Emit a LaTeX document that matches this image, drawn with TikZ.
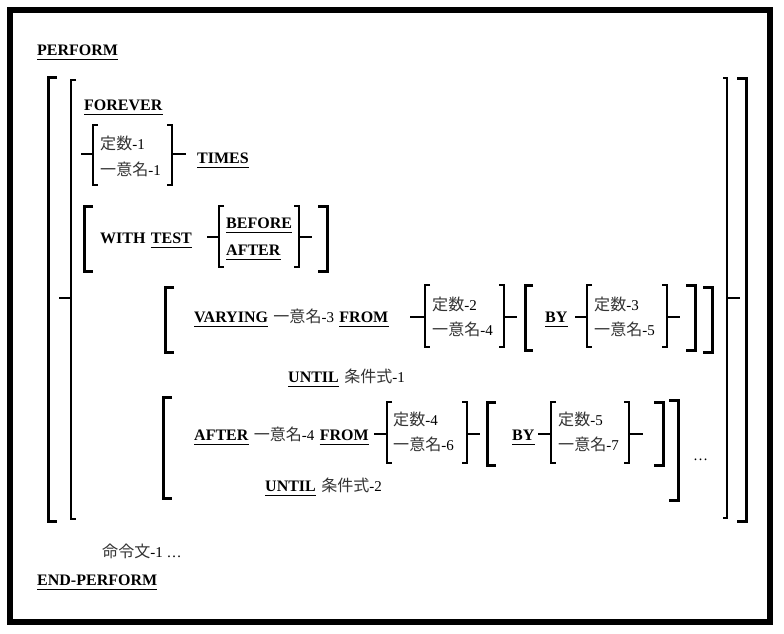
\documentclass[tikz,border=0pt]{standalone}
\usepackage{fontspec}
\setmainfont{Liberation Serif}
\newfontfamily\cjk[Scale=1.07]{Noto Sans CJK JP}
\newcommand\cj[1]{{\cjk\color{black!80}#1}}
\tikzset{
  kw/.style={inner sep=0pt, anchor=base west, font=\fontsize{16}{18}\selectfont\bfseries},
  lb/.style={inner sep=0pt, anchor=base west, font=\fontsize{15}{17}\selectfont},
  thickbr/.style={line width=3pt, line join=miter},
  thinbr/.style={line width=1.6pt, line join=miter},
  hair/.style={line width=1.5pt},
  ulin/.style={line width=0.9pt},
}
\newcommand\kwat[3]{\node[kw] (#1) at (#2) {#3};
  \draw[ulin] ([yshift=-4pt]#1.base west) -- ([yshift=-4pt]#1.base east);}
\newcommand\brk[5]{\draw[#1] ({#2+#5},#3) -- (#2,#3) -- (#2,#4) -- ({#2+#5},#4);}
\begin{document}
\begin{tikzpicture}[x=1pt,y=-1pt]
\useasboundingbox (0,0) rectangle (784,633);
\draw[line width=6pt] (10,9.5) rectangle (770,621.5);

% big brackets
\brk{thickbr}{48}{77}{521}{9}
\brk{thinbr}{71}{80}{519}{5}
\draw[hair] (59,298) -- (71,298);
\brk{thinbr}{727}{78}{518}{-4}
\draw[hair] (727,298) -- (740,298);
\brk{thickbr}{746}{78}{521}{-9}

\kwat{perform}{37,55}{PERFORM}
\kwat{forever}{84,110}{FOREVER}

% times
\draw[hair] (81,154) -- (93,154);
\brk{thinbr}{93}{125}{185}{5}
\node[lb] (k1) at (100,149) {\cj{定数}-1};
\node[lb] (n1) at (100,175) {\cj{一意名}-1};
\brk{thinbr}{172}{125}{185}{-5}
\draw[hair] (172,154) -- (186,154);
\kwat{times}{197,163}{TIMES}

% with test
\brk{thickbr}{84}{206}{271}{9}
\node[kw] (with) at (100,243) {WITH};
\node[kw] (test) at ([xshift=5pt]with.base east) {TEST};
\draw[ulin] ([yshift=-4pt]test.base west) -- ([yshift=-4pt]test.base east);
\draw[hair] (207,237) -- (219,237);
\brk{thinbr}{219}{206}{267}{5}
\kwat{before}{226,228}{BEFORE}
\kwat{afterA}{226,255}{AFTER}
\brk{thinbr}{299}{206}{267}{-5}
\draw[hair] (299,237) -- (312,237);
\brk{thickbr}{327}{206}{271}{-9}

% varying
\brk{thickbr}{165}{287}{352}{9}
\kwat{varying}{194,322}{VARYING}
\node[lb] (id3) at ([xshift=5pt]varying.base east) {\cj{一意名}-3};
\node[kw] (fromA) at ([xshift=5pt]id3.base east) {FROM};
\draw[ulin] ([yshift=-4pt]fromA.base west) -- ([yshift=-4pt]fromA.base east);
\draw[hair] (410,317) -- (425,317);
\brk{thinbr}{425}{285}{347}{5}
\node[lb] (k2) at (432,310) {\cj{定数}-2};
\node[lb] (n4) at (432,335) {\cj{一意名}-4};
\brk{thinbr}{504}{285}{347}{-5}
\draw[hair] (504,317) -- (517,317);
\brk{thickbr}{525}{285}{350}{8}
\kwat{byA}{545,322}{BY}
\draw[hair] (575,317) -- (587,317);
\brk{thinbr}{587}{285}{347}{5}
\node[lb] (k3) at (594,310) {\cj{定数}-3};
\node[lb] (n5) at (594,335) {\cj{一意名}-5};
\brk{thinbr}{667}{285}{347}{-5}
\draw[hair] (667,317) -- (680,317);
\brk{thickbr}{695}{285}{350}{-9}
\brk{thickbr}{712}{287}{352}{-9}

\kwat{untilA}{288,382}{UNTIL}
\node[lb] (cond1) at ([xshift=5pt]untilA.base east) {\cj{条件式}-1};

% after
\brk{thickbr}{163}{397}{498}{9}
\kwat{afterB}{194,440}{AFTER}
\node[lb] (id4) at ([xshift=5pt]afterB.base east) {\cj{一意名}-4};
\node[kw] (fromB) at ([xshift=5pt]id4.base east) {FROM};
\draw[ulin] ([yshift=-4pt]fromB.base west) -- ([yshift=-4pt]fromB.base east);
\draw[hair] (374,434) -- (387,434);
\brk{thinbr}{387}{402}{463}{5}
\node[lb] (k4) at (393,425) {\cj{定数}-4};
\node[lb] (n6) at (393,450) {\cj{一意名}-6};
\brk{thinbr}{467}{402}{463}{-5}
\draw[hair] (467,434) -- (480,434);
\brk{thickbr}{487}{402}{465}{9}
\kwat{byB}{512,440}{BY}
\draw[hair] (538,434) -- (551,434);
\brk{thinbr}{551}{402}{463}{5}
\node[lb] (k5) at (558,425) {\cj{定数}-5};
\node[lb] (n7) at (558,450) {\cj{一意名}-7};
\brk{thinbr}{629}{402}{463}{-5}
\draw[hair] (629,434) -- (643,434);
\brk{thickbr}{663}{402}{465}{-9}
\brk{thickbr}{678}{400}{500}{-9}
\node[lb] (dots) at (693,460) {\ldots};

\kwat{untilB}{265,491}{UNTIL}
\node[lb] (cond2) at ([xshift=5pt]untilB.base east) {\cj{条件式}-2};

\node[lb] (cmd) at (102,557) {\cj{命令文}-1 \ldots};
\kwat{endp}{37,585}{END-PERFORM}
\end{tikzpicture}
\end{document}
